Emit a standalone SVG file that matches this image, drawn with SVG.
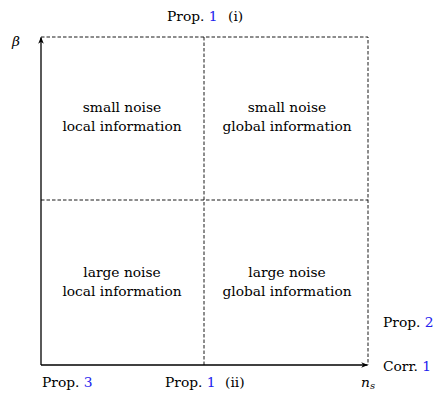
<svg xmlns="http://www.w3.org/2000/svg" width="434" height="393" viewBox="0 0 434 393">
<style>
text{font-family:"DejaVu Serif","Liberation Serif",serif;font-size:13.8px;fill:#000}
.c{text-anchor:middle}
.b{fill:#2222ee}
.d{fill:none;stroke:#000;stroke-width:0.9;stroke-dasharray:3.5 2}
.ax{fill:none;stroke:#000;stroke-width:1.3}
</style>
<defs>
<marker id="ah" viewBox="0 0 10 8" refX="9" refY="4" markerWidth="7" markerHeight="6" markerUnits="userSpaceOnUse" orient="auto">
<path d="M0,0 L10,4 L0,8 L3,4 Z" fill="#000"/>
</marker>
</defs>
<rect width="434" height="393" fill="#fff"/>
<g id="connectors">
<path class="d" d="M41,37 H368 V365"/>
<path class="d" d="M204,37 V365"/>
<path class="d" d="M41,200 H368"/>
<path class="ax" d="M41,365 V37.5" marker-end="url(#ah)"/>
<path class="ax" d="M41,365 H367.5" marker-end="url(#ah)"/>
</g>
<g id="q-small-local"><text class="c" x="122" y="112">small noise</text><text class="c" x="122" y="131">local information</text></g>
<g id="q-small-global"><text class="c" x="287" y="112">small noise</text><text class="c" x="287" y="131">global information</text></g>
<g id="q-large-local"><text class="c" x="122" y="277">large noise</text><text class="c" x="122" y="296">local information</text></g>
<g id="q-large-global"><text class="c" x="287" y="277">large noise</text><text class="c" x="287" y="296">global information</text></g>
<g id="labels">
<text x="12" y="46" font-style="italic" font-size="16px">β</text>
<text x="167" y="21">Prop. <tspan class="b">1</tspan><tspan x="228">(i)</tspan></text>
<text x="383" y="327">Prop. <tspan class="b">2</tspan></text>
<text x="383" y="371">Corr. <tspan class="b">1</tspan></text>
<text x="42" y="387">Prop. <tspan class="b">3</tspan></text>
<text x="165" y="387">Prop. <tspan class="b">1</tspan><tspan x="225">(ii)</tspan></text>
<text x="361" y="387" font-style="italic" font-size="15px">n<tspan font-size="10px" dy="2">s</tspan></text>
</g>
</svg>
